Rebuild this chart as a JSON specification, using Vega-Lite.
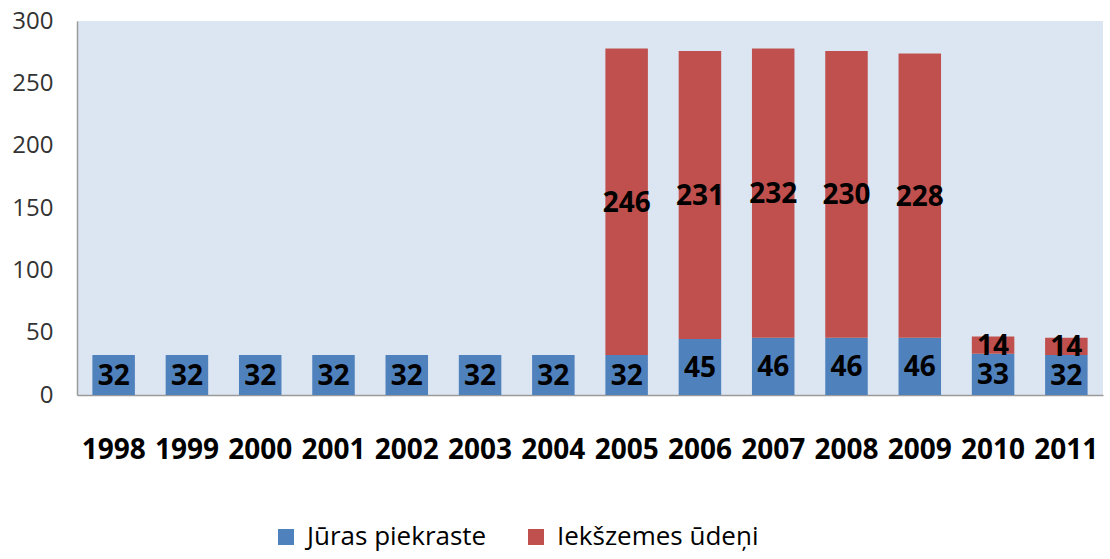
{
  "$schema": "https://vega.github.io/schema/vega-lite/v6.json",
  "width": 1026,
  "height": 374,
  "autosize": {"type": "none"},
  "padding": {"left": 77, "top": 21, "right": 7, "bottom": 164},
  "background": "#ffffff",
  "config": {
    "view": {"fill": "#dce6f2", "stroke": null},
    "font": "Open Sans"
  },
  "data": {
    "values": [
      {"year": "1998", "series": "Jūras piekraste", "value": 32},
      {"year": "1999", "series": "Jūras piekraste", "value": 32},
      {"year": "2000", "series": "Jūras piekraste", "value": 32},
      {"year": "2001", "series": "Jūras piekraste", "value": 32},
      {"year": "2002", "series": "Jūras piekraste", "value": 32},
      {"year": "2003", "series": "Jūras piekraste", "value": 32},
      {"year": "2004", "series": "Jūras piekraste", "value": 32},
      {"year": "2005", "series": "Jūras piekraste", "value": 32},
      {"year": "2006", "series": "Jūras piekraste", "value": 45},
      {"year": "2007", "series": "Jūras piekraste", "value": 46},
      {"year": "2008", "series": "Jūras piekraste", "value": 46},
      {"year": "2009", "series": "Jūras piekraste", "value": 46},
      {"year": "2010", "series": "Jūras piekraste", "value": 33},
      {"year": "2011", "series": "Jūras piekraste", "value": 32},
      {"year": "2005", "series": "Iekšzemes ūdeņi", "value": 246},
      {"year": "2006", "series": "Iekšzemes ūdeņi", "value": 231},
      {"year": "2007", "series": "Iekšzemes ūdeņi", "value": 232},
      {"year": "2008", "series": "Iekšzemes ūdeņi", "value": 230},
      {"year": "2009", "series": "Iekšzemes ūdeņi", "value": 228},
      {"year": "2010", "series": "Iekšzemes ūdeņi", "value": 14},
      {"year": "2011", "series": "Iekšzemes ūdeņi", "value": 14}
    ]
  },
  "encoding": {
    "x": {
      "field": "year",
      "type": "ordinal",
      "scale": {"paddingInner": 0.42, "paddingOuter": 0.21},
      "axis": {
        "title": null,
        "labelAngle": 0,
        "labelFontSize": 28,
        "labelFontWeight": "bold",
        "labelColor": "#000000",
        "labelPadding": 41,
        "ticks": false,
        "domainColor": "#9a9a9a",
        "domainWidth": 1.5
      }
    },
    "y": {
      "field": "value",
      "type": "quantitative",
      "stack": "zero",
      "scale": {"domain": [0, 300]},
      "axis": {
        "title": null,
        "values": [0, 50, 100, 150, 200, 250, 300],
        "grid": false,
        "ticks": false,
        "labelFontSize": 24,
        "labelColor": "#333333",
        "labelPadding": 24,
        "domainColor": "#9a9a9a",
        "domainWidth": 1.5
      }
    },
    "order": {"field": "series", "sort": "descending"}
  },
  "layer": [
    {
      "mark": {"type": "bar"},
      "encoding": {
        "color": {
          "field": "series",
          "type": "nominal",
          "scale": {
            "domain": ["Jūras piekraste", "Iekšzemes ūdeņi"],
            "range": ["#4f81bd", "#c0504d"]
          },
          "legend": {
            "title": null,
            "orient": "none",
            "direction": "horizontal",
            "legendX": 196,
            "legendY": 503,
            "symbolType": "square",
            "symbolSize": 256,
            "symbolStrokeWidth": 0,
            "labelFontSize": 26,
            "labelColor": "#000000",
            "labelLimit": 0,
            "labelOffset": 8,
            "columnPadding": 36
          }
        }
      }
    },
    {
      "mark": {
        "type": "text",
        "fontSize": 28,
        "fontWeight": "bold",
        "color": "#000000",
        "baseline": "middle",
        "dy": 2
      },
      "encoding": {
        "y": {
          "field": "value",
          "type": "quantitative",
          "stack": "zero",
          "bandPosition": 0.5
        },
        "text": {"field": "value", "type": "quantitative"}
      }
    }
  ]
}
